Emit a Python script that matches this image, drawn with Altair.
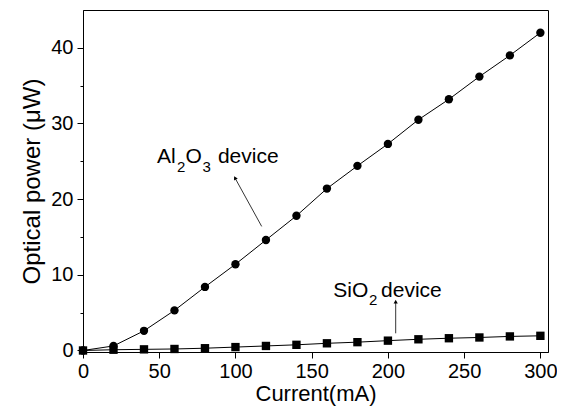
import altair as alt
import pandas as pd

# ---- data ----
current = [0, 20, 40, 60, 80, 100, 120, 140, 160, 180, 200, 220, 240, 260, 280, 300]
al2o3_power = [0.0, 0.6, 2.6, 5.3, 8.4, 11.4, 14.6, 17.8, 21.4, 24.4, 27.3, 30.5, 33.2, 36.2, 39.0, 42.0]
sio2_power = [0.0, 0.1, 0.15, 0.2, 0.3, 0.45, 0.6, 0.75, 0.95, 1.1, 1.3, 1.48, 1.62, 1.72, 1.86, 1.94]

series_names = ["Al2O3", "SiO2"]
series_shapes = ["circle", "square"]

# annotation text pieces (text, x, y, size)
label_text = ["Al", "2", "O", "3", "device", "SiO", "2", "device"]
label_x = [48.5, 61.7, 67.2, 78.4, 88.5, 164.2, 187.6, 195.5]
label_y = [24.74, 23.62, 24.74, 23.62, 24.74, 7.11, 6.01, 7.11]
label_size = [21, 15, 21, 15, 21, 21, 15, 21]

# arrows: tail (x, y) -> head (x2, y2), head angle
arrow_x = [117.2, 205.1]
arrow_y = [16.4, 2.27]
arrow_x2 = [99.7, 205.1]
arrow_y2 = [22.8, 6.45]
arrow_angle = [331, 0]

FONT = "Liberation Sans"

df = pd.DataFrame({
    "current": current * 2,
    "power": al2o3_power + sio2_power,
    "series": [series_names[0]] * len(current) + [series_names[1]] * len(current),
})
labels = pd.DataFrame({"text": label_text, "x": label_x, "y": label_y, "size": label_size})
arrows = pd.DataFrame({"x": arrow_x, "y": arrow_y, "x2": arrow_x2, "y2": arrow_y2, "angle": arrow_angle})

xscale = alt.Scale(domain=[0, 305], nice=False, zero=False)
yscale = alt.Scale(domain=[-0.2, 45], nice=False, zero=False)

xaxis = alt.Axis(
    title="Current(mA)",
    values=list(range(0, 301, 25)),
    labelExpr="datum.value % 50 === 0 ? datum.label : ''",
    tickSize={"condition": {"test": "datum.value % 50 === 0", "value": 6}, "value": 3},
    labelFlush=False,
    labelOverlap=False,
    grid=False,
    labelPadding=3,
    titlePadding=2,
    titleFontSize=22,
)
yaxis = alt.Axis(
    title="Optical power (\u03bcW)",
    values=list(range(0, 41, 5)),
    labelExpr="datum.value % 10 === 0 ? datum.label : ''",
    tickSize={"condition": {"test": "datum.value % 10 === 0", "value": 6}, "value": 3},
    labelFlush=False,
    labelOverlap=False,
    grid=False,
    labelPadding=4,
    titlePadding=6,
    titleFontSize=24,
)

base = alt.Chart(df)
lines = base.mark_line(color="black", strokeWidth=1).encode(
    x=alt.X("current:Q", scale=xscale, axis=xaxis),
    y=alt.Y("power:Q", scale=yscale, axis=yaxis),
    detail="series:N",
)
points = base.mark_point(filled=True, color="black", opacity=1, size=70).encode(
    x=alt.X("current:Q", scale=xscale),
    y=alt.Y("power:Q", scale=yscale),
    shape=alt.Shape("series:N", scale=alt.Scale(domain=series_names, range=series_shapes), legend=None),
)

arrow_lines = alt.Chart(arrows).mark_rule(color="black", strokeWidth=0.8).encode(
    x=alt.X("x:Q", scale=xscale), y=alt.Y("y:Q", scale=yscale),
    x2="x2:Q", y2="y2:Q",
)
arrow_heads = alt.Chart(arrows).mark_point(shape="triangle-up", filled=True, color="black", opacity=1, size=18).encode(
    x=alt.X("x2:Q", scale=xscale), y=alt.Y("y2:Q", scale=yscale),
    angle=alt.Angle("angle:Q", scale=None),
)

texts = alt.Chart(labels).mark_text(align="left", baseline="alphabetic", font=FONT, color="black").encode(
    x=alt.X("x:Q", scale=xscale), y=alt.Y("y:Q", scale=yscale),
    text="text:N",
    size=alt.Size("size:Q", scale=None, legend=None),
)

chart = alt.layer(lines, points, arrow_lines, arrow_heads, texts).properties(
    width=465, height=342,
    autosize=alt.AutoSizeParams(type="none"),
    padding={"left": 75, "top": 2, "right": 9, "bottom": 58},
).configure_view(
    stroke="black", strokeWidth=1,
).configure_axis(
    labelFont=FONT, titleFont=FONT, labelFontSize=20,
    titleFontWeight="normal", labelColor="black", titleColor="black",
    domainColor="black", tickColor="black", domainWidth=1, tickWidth=1,
)

chart.save("out.html", embed_options={"renderer": "svg", "actions": False})
